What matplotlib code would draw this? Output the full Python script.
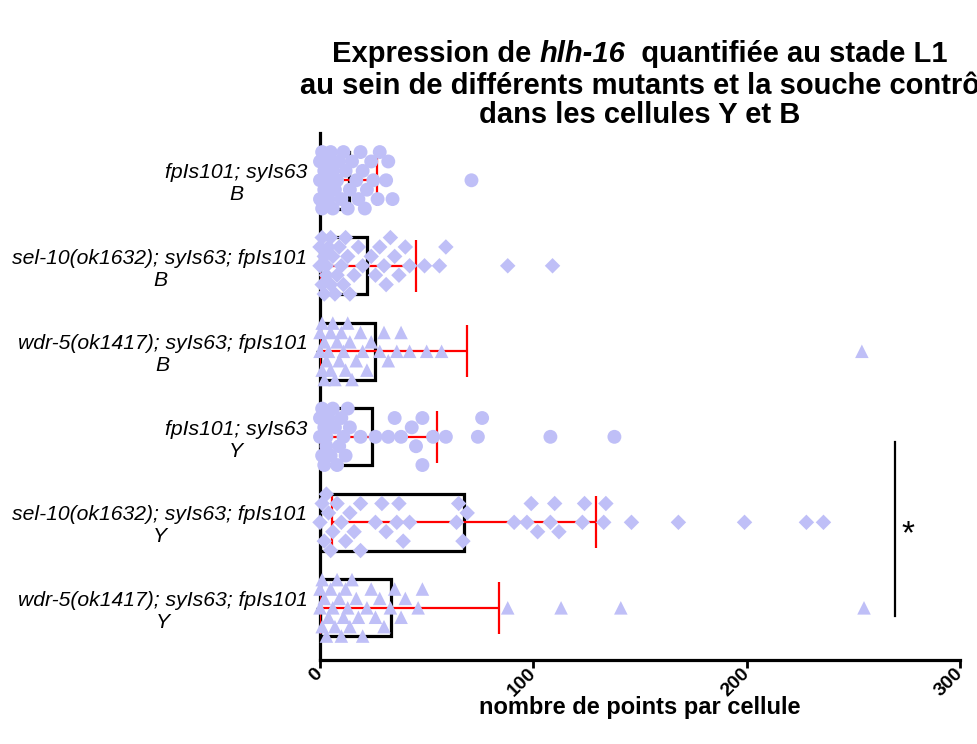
import numpy as np
import matplotlib
matplotlib.use("Agg")
import matplotlib.pyplot as plt

plt.rcParams['font.family'] = ['Liberation Sans', 'DejaVu Sans']

# groups from top to bottom
labels = [
    "fpIs101; syIs63\nB",
    "sel-10(ok1632); syIs63; fpIs101\nB",
    "wdr-5(ok1417); syIs63; fpIs101\nB",
    "fpIs101; syIs63\nY",
    "sel-10(ok1632); syIs63; fpIs101\nY",
    "wdr-5(ok1417); syIs63; fpIs101\nY",
]
markers = ['o', 'D', '^', 'o', 'D', '^']

means = [13.6, 22.0, 26.0, 24.5, 67.5, 33.5]
sds = [13.1, 23.0, 43.0, 30.5, 62.0, 50.5]

# individual cells (points per cell)
fp_B = [0, 0, 0, 1, 1, 2, 2, 3, 4, 4, 5, 6, 6, 7, 8, 9, 10, 11, 12, 13, 14, 15, 17,
        18, 19, 20, 21, 22, 24, 25, 27, 28, 31, 32, 34, 71]
sel_B = [0, 0, 1, 1, 2, 2, 3, 3, 4, 5, 5, 6, 7, 8, 9, 10, 11, 12, 13, 14, 16, 18, 20,
         24, 26, 28, 30, 31, 33, 35, 37, 40, 42, 49, 56, 59, 88, 109]
wdr_B = [0, 0, 1, 1, 2, 2, 3, 4, 5, 5, 6, 7, 8, 9, 10, 11, 12, 13, 14, 15, 17, 19, 20,
         22, 24, 28, 30, 32, 36, 38, 42, 50, 57, 254]
fp_Y = [0, 0, 1, 1, 2, 2, 3, 3, 4, 5, 6, 7, 8, 9, 10, 11, 12, 13, 14, 19, 26, 32, 35,
        38, 43, 45, 48, 48, 53, 59, 74, 76, 108, 138]
sel_Y = [0, 1, 2, 3, 4, 5, 6, 8, 10, 12, 14, 16, 19, 19, 26, 29, 31, 36, 37, 39, 42,
         64, 65, 67, 69, 91, 97, 99, 102, 108, 110, 112, 123, 124, 133, 134, 146,
         168, 199, 228, 236]
wdr_Y = [0, 0, 1, 1, 2, 3, 4, 5, 6, 7, 8, 9, 10, 11, 12, 13, 14, 15, 17, 18, 20, 22,
         24, 26, 28, 30, 33, 35, 38, 40, 46, 48, 88, 113, 141, 255]
groups = [fp_B, sel_B, wdr_B, fp_Y, sel_Y, wdr_Y]

sig_x = 269.5      # position of the significance bar
xticks = [0, 100, 200, 300]

point_col = '#bfbff7'

XPX = 640 / 300.0   # pixels per x unit
YPX = 85.6          # pixels per row


def swarm(vals, d=0.11, kmax=3, mind=12.0):
    # beeswarm: each point takes the nearest free slot around the centre line
    vals = np.sort(np.asarray(vals, dtype=float))
    slots = [0]
    for k in range(1, kmax + 1):
        slots += [k, -k]
    placed = []
    offs = []
    for v in vals:
        best, best_d = None, -1
        for s in slots:
            y = s * d
            dm = min([np.hypot((v - pv) * XPX, (y - py) * YPX) for pv, py in placed] or [1e9])
            if dm >= mind:
                best = y
                break
            if dm > best_d:
                best_d, best = dm, y
        placed.append((v, best))
        offs.append(best)
    return vals, np.array(offs)


fig = plt.figure(figsize=(9.78, 7.44), dpi=100)
ax = fig.add_axes([0.3272, 0.1129, 0.6544, 0.708])

n = len(groups)
ypos = np.arange(n)[::-1]

ax.barh(ypos, means, height=0.67, color='white', edgecolor='black', linewidth=2.3, zorder=2)
lower = np.minimum(sds, means)
ax.errorbar(means, ypos, xerr=[lower, sds], fmt='none', ecolor='red', elinewidth=1.6,
            capsize=19, capthick=1.6, zorder=3)

for vals, y, m in zip(groups, ypos, markers):
    xs, offs = swarm(vals)
    size = {'o': 100, 'D': 62, '^': 95}[m]
    ax.scatter(xs, y + offs, marker=m, s=size, color=point_col, edgecolors='none',
               zorder=4, clip_on=False)

ax.set_xlim(0, 300)
ax.set_ylim(-0.61, 5.55)
ax.set_xticks(xticks)
ax.set_xticklabels([str(t) for t in xticks], rotation=45, fontsize=14, fontweight='bold',
                   ha='right', va='center', rotation_mode='anchor')
ax.tick_params(axis='x', length=6, width=2, pad=2)
ax.set_yticks(ypos)
ax.set_yticklabels(labels, fontsize=15.2, style='italic', multialignment='center')
ax.tick_params(axis='y', length=3, width=1, pad=6)
for s in ['top', 'right']:
    ax.spines[s].set_visible(False)
for s in ['left', 'bottom']:
    ax.spines[s].set_linewidth(2.3)

ax.set_xlabel('nombre de points par cellule', fontsize=17, fontweight='bold', va='center')
ax.xaxis.set_label_coords(0.5, -0.091)

# significance
ax.plot([sig_x, sig_x], [1.94, -0.1], color='black', lw=1.6, clip_on=False)
ax.text(sig_x + 6, 0.86, '*', fontsize=24, ha='center', va='center')

# title, with the gene name in italics
fig.canvas.draw()
r = fig.canvas.get_renderer()
t_fs = 21
parts = [("Expression de ", 'normal'), ("hlh-16", 'italic'), ("  quantifiée au stade L1", 'normal')]
txts = [fig.text(0, 0.928, p, fontsize=t_fs, fontweight='bold', style=st, va='center')
        for p, st in parts]
widths = [t.get_window_extent(r).width for t in txts]
xc = 0.3272 + 0.6544 / 2
x0 = xc * fig.bbox.width - sum(widths) / 2
for t, w in zip(txts, widths):
    t.set_x(x0 / fig.bbox.width)
    x0 += w
fig.text(xc + 0.012, 0.885, "au sein de différents mutants et la souche contrôle", fontsize=t_fs,
         fontweight='bold', ha='center', va='center')
fig.text(xc, 0.846, "dans les cellules Y et B", fontsize=t_fs, fontweight='bold',
         ha='center', va='center')

fig.savefig('out.png', dpi=100)
